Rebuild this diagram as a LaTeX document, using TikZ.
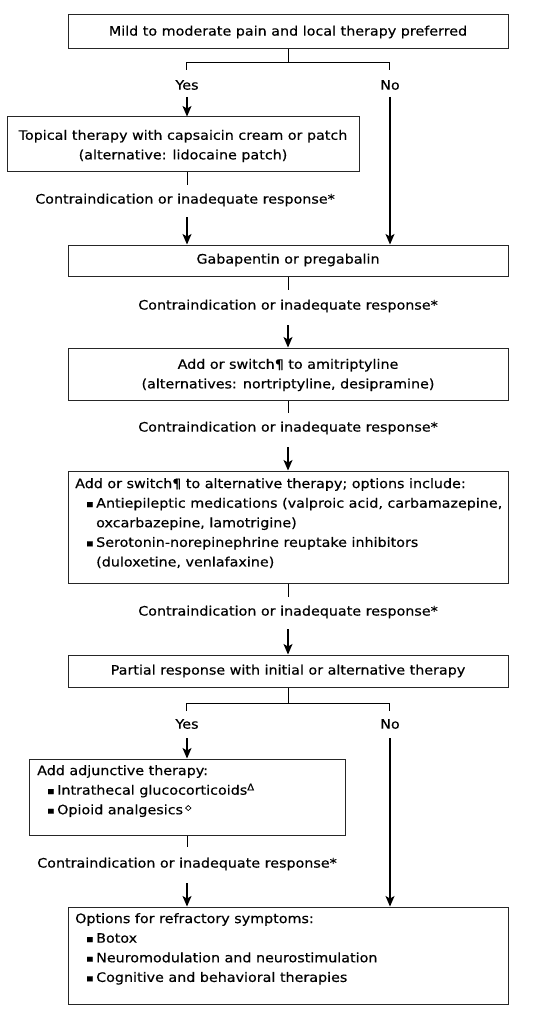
\documentclass[tikz,border=0pt]{standalone}
\usepackage{fontspec}
\setmainfont{DejaVu Sans}[FakeStretch=1.1,FakeBold=0.5]
\usetikzlibrary{arrows.meta}
\newcommand{\bul}{\makebox[10pt][l]{\raisebox{0.5pt}{\scalebox{0.75}{▪}}}}
\begin{document}
\begin{tikzpicture}[x=1pt,y=-1pt,
  box/.style={draw=black!85,line width=1pt,inner sep=0pt,anchor=center},
  txt/.style={inner sep=0pt,font=\fontsize{13}{19.6}\selectfont,align=center},
  ltxt/.style={inner sep=0pt,font=\fontsize{13}{19.6}\selectfont,align=left,anchor=north west},
  lbl/.style={inner sep=0pt,font=\fontsize{13}{14}\selectfont},
  ln/.style={draw=black,line width=1pt},
  arr/.style={draw=black,line width=1.1pt,-{Stealth[length=10.5pt,width=9pt,inset=2.5pt]}}]
\useasboundingbox (0,0) rectangle (549,1019);
% boxes
\node[box,minimum width=440,minimum height=34] (b1) at (288,32) {};
\node[txt] (t1) at (288,32) {Mild to moderate pain and local therapy preferred};
\node[box,minimum width=352,minimum height=55] (b2) at (183,144.5) {};
\node[txt] (t2) at (183,146) {Topical therapy with capsaicin cream or patch\\(alternative: lidocaine patch)};
\node[box,minimum width=440,minimum height=31] (b3) at (288,260.5) {};
\node[txt] (t3) at (288,260) {Gabapentin or pregabalin};
\node[box,minimum width=440,minimum height=52] (b4) at (288,374) {};
\node[txt] (t4) at (288,375) {Add or switch¶ to amitriptyline\\(alternatives: nortriptyline, desipramine)};
\node[box,minimum width=440,minimum height=112] (b5) at (288,527) {};
\node[ltxt] (t5) at (75,478) {Add or switch¶ to alternative therapy; options include:\\
\hspace*{11pt}\bul Antiepileptic medications (valproic acid, carbamazepine,\\
\hspace*{21pt}oxcarbazepine, lamotrigine)\\
\hspace*{11pt}\bul Serotonin-norepinephrine reuptake inhibitors\\
\hspace*{21pt}(duloxetine, venlafaxine)};
\node[box,minimum width=440,minimum height=32] (b6) at (288,671) {};
\node[txt] (t6) at (288,671) {Partial response with initial or alternative therapy};
\node[box,minimum width=316,minimum height=76] (b7) at (187,797) {};
\node[ltxt] (t7) at (37,765) {Add adjunctive therapy:\\
\hspace*{10pt}\bul Intrathecal glucocorticoids\textsuperscript{Δ}\\
\hspace*{10pt}\bul Opioid analgesics\,\textsuperscript{\scalebox{0.8}{◇}}};
\node[box,minimum width=440,minimum height=97] (b8) at (288,955.5) {};
\node[ltxt] (t8) at (75,913) {Options for refractory symptoms:\\
\hspace*{11pt}\bul Botox\\
\hspace*{11pt}\bul Neuromodulation and neurostimulation\\
\hspace*{11pt}\bul Cognitive and behavioral therapies};
% labels
\node[lbl] (y1) at (187,85) {Yes};
\node[lbl] (n1) at (390,85) {No};
\node[lbl] (c1) at (185,200) {Contraindication or inadequate response*};
\node[lbl] (c2) at (288,306) {Contraindication or inadequate response*};
\node[lbl] (c3) at (288,428) {Contraindication or inadequate response*};
\node[lbl] (c4) at (288,612) {Contraindication or inadequate response*};
\node[lbl] (y2) at (187,724) {Yes};
\node[lbl] (n2) at (390,724) {No};
\node[lbl] (c5) at (187,864) {Contraindication or inadequate response*};
% coordinates
\coordinate (j1) at (288,63);
\coordinate (j1l) at (186,63);
\coordinate (j1r) at (389,63);
\coordinate (j1la) at (186,70);
\coordinate (j1ra) at (389,70);
\coordinate (ya) at (187,97);
\coordinate (na) at (390,97);
\coordinate (s2) at (187,185);
\coordinate (a2) at (187,217);
\coordinate (s3) at (288,290);
\coordinate (a3) at (288,325);
\coordinate (s4) at (288,413);
\coordinate (a4) at (288,447);
\coordinate (s5) at (288,597);
\coordinate (a5) at (288,629);
\coordinate (j6) at (288,703);
\coordinate (j6l) at (186,703);
\coordinate (j6r) at (389,703);
\coordinate (j6la) at (186,711);
\coordinate (j6ra) at (389,711);
\coordinate (yb) at (187,738);
\coordinate (nb) at (390,738);
\coordinate (s7) at (187,847);
\coordinate (a7) at (187,883);
% connectors
\draw[ln] (b1.south) -- (j1);
\draw[ln] (j1la) -- (j1l) -- (j1r) -- (j1ra);
\draw[arr] (ya) -- (b2.north -| ya);
\draw[arr] (na) -- (b3.north -| na);
\draw[ln] (b2.south -| s2) -- (s2);
\draw[arr] (a2) -- (b3.north -| a2);
\draw[ln] (b3.south) -- (s3);
\draw[arr] (a3) -- (b4.north);
\draw[ln] (b4.south) -- (s4);
\draw[arr] (a4) -- (b5.north);
\draw[ln] (b5.south) -- (s5);
\draw[arr] (a5) -- (b6.north);
\draw[ln] (b6.south) -- (j6);
\draw[ln] (j6la) -- (j6l) -- (j6r) -- (j6ra);
\draw[arr] (yb) -- (b7.north -| yb);
\draw[arr] (nb) -- (b8.north -| nb);
\draw[ln] (b7.south -| s7) -- (s7);
\draw[arr] (a7) -- (b8.north -| a7);
\end{tikzpicture}
\end{document}
